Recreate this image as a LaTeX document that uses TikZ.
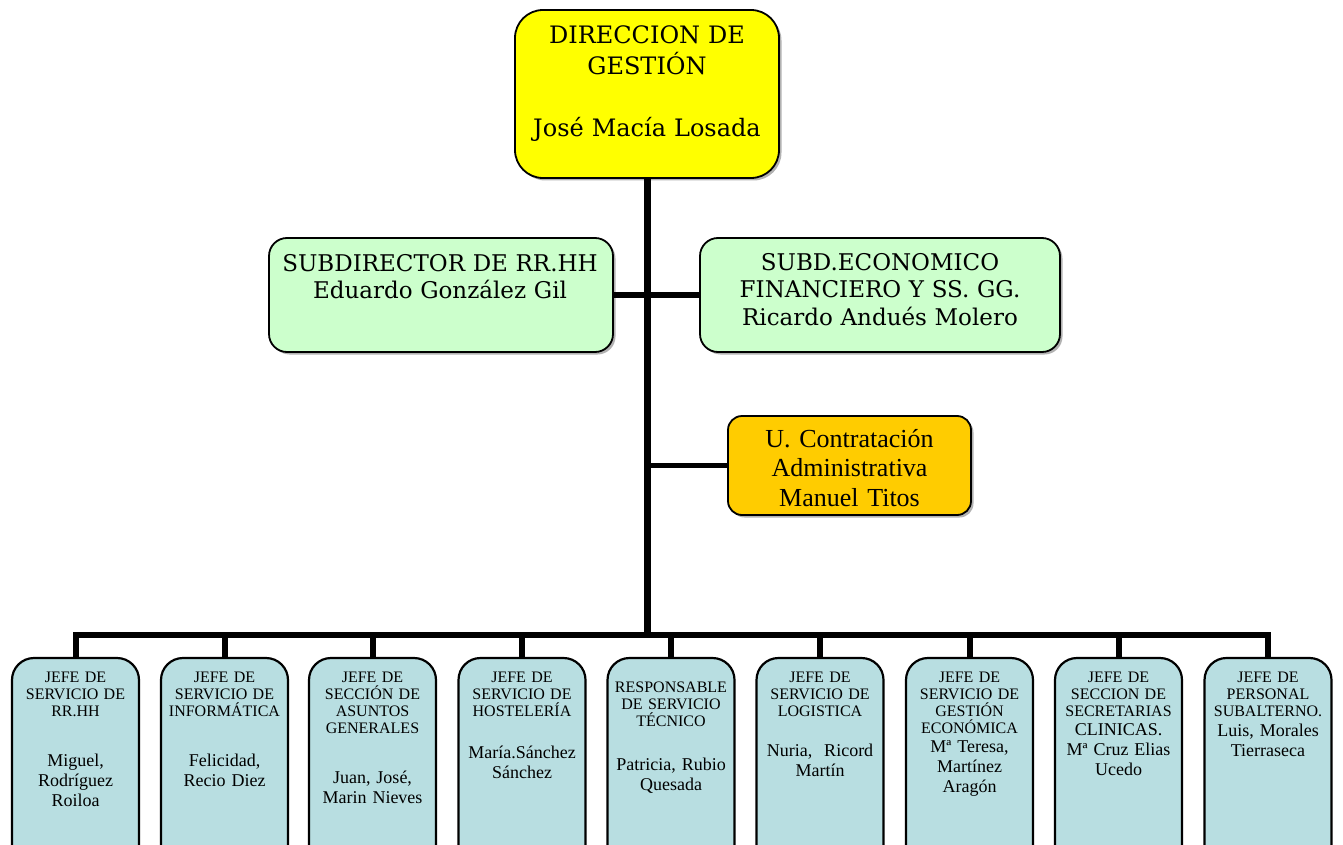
\documentclass[tikz,border=0pt]{standalone}
\usepackage{fontspec}
\setmainfont{Liberation Serif}
\newfontfamily\schfont{DejaVu Serif}
\usetikzlibrary{shadows}
\definecolor{dirYellow}{RGB}{255,255,0}
\definecolor{subGreen}{RGB}{204,255,204}
\definecolor{contOrange}{RGB}{255,204,0}
\definecolor{jefeBlue}{RGB}{184,222,225}
\begin{document}
\begin{tikzpicture}[x=1pt,y=-1pt,
  conn/.style={line width=6pt, black, line join=miter},
  thinconn/.style={line width=5pt, black},
  boxshadow/.style={drop shadow={shadow xshift=2.5pt, shadow yshift=-2.5pt, fill=black, opacity=0.3}},
  topbox/.style={draw, line width=1.8pt, rounded corners=28pt, fill=dirYellow, minimum width=264pt, minimum height=168pt, inner sep=0pt, boxshadow},
  subbox/.style={draw, line width=1.8pt, rounded corners=18pt, fill=subGreen, minimum height=114pt, inner sep=0pt, boxshadow},
  contbox/.style={draw, line width=1.8pt, rounded corners=14pt, fill=contOrange, minimum width=243pt, minimum height=99pt, inner sep=0pt, boxshadow},
  jefebox/.style={draw, line width=2.2pt, rounded corners=22pt, fill=jefeBlue, minimum width=127pt, minimum height=210pt, inner sep=0pt},
  toptext/.style={anchor=base, inner sep=0pt, align=center, text width=250pt, font=\schfont\fontsize{24}{31}\selectfont},
  subtext/.style={anchor=base, inner sep=0pt, align=center, text width=340pt, font=\schfont\fontsize{23}{27.5}\selectfont},
  conttext/.style={anchor=base, inner sep=0pt, align=center, text width=240pt, font=\fontsize{26}{29.5}\selectfont},
  headtext/.style={anchor=base, inner sep=0pt, align=center, text width=125pt, font=\fontsize{16}{17}\selectfont},
  nametext/.style={anchor=base, inner sep=0pt, align=center, text width=125pt, font=\fontsize{18}{20}\selectfont}
]
\useasboundingbox (0,0) rectangle (1343,845);
\clip (0,0) rectangle (1343,845);

% top level boxes
\node[topbox] (dir) at (647,94) {};
\node[subbox, minimum width=344pt] (sub1) at (441,295) {};
\node[subbox, minimum width=360pt] (sub2) at (880,295) {};
\node[contbox] (cont) at (849.5,465.5) {};

% hub coordinate on the bus
\coordinate (hub) at (dir.south |- 0,634.5);

% bottom boxes
\node[jefebox] (b1) at (75.5,763) {};
\node[jefebox] (b2) at (224.5,763) {};
\node[jefebox] (b3) at (372.5,763) {};
\node[jefebox] (b4) at (522,763) {};
\node[jefebox] (b5) at (671,763) {};
\node[jefebox] (b6) at (820,763) {};
\node[jefebox] (b7) at (969.5,763) {};
\node[jefebox] (b8) at (1118.5,763) {};
\node[jefebox] (b9) at (1268,763) {};

% connectors
\draw[conn, line width=7pt] (dir.south) -- (hub);
\draw[conn] (sub1.east) -- (sub1.east -| dir.south);
\draw[conn] (sub2.west) -- (sub2.west -| dir.south);
\draw[thinconn] (cont.west) -- (cont.west -| dir.south);
\draw[conn] (b1.north) |- (hub) -| (b9.north);
\foreach \b in {b2,b3,b4,b5,b6,b7,b8}{
  \draw[conn] (\b.north) -- (\b.north |- hub);
}

% texts of top boxes
\node[toptext] (dirT1) at (647,44) {DIRECCION DE\\GESTIÓN};
\node[toptext] (dirT2) at (647,137) {José Macía Losada};
\node[subtext] (sub1T) at (440,271) {SUBDIRECTOR DE RR.HH\\Eduardo González Gil};
\node[subtext] (sub2T) at (880,270) {SUBD.ECONOMICO\\FINANCIERO Y SS. GG.\\Ricardo Andués Molero};
\node[conttext] (contT) at (849.5,447) {U. Contratación\\Administrativa\\Manuel Titos};

% texts of bottom boxes
\node[headtext] (b1H) at (75.5,682) {JEFE DE\\SERVICIO DE\\RR.HH};
\node[nametext] (b1N) at (75.5,766) {Miguel,\\Rodríguez\\Roiloa};

\node[headtext] (b2H) at (224.5,682) {JEFE DE\\SERVICIO DE\\INFORMÁTICA};
\node[nametext] (b2N) at (224.5,766) {Felicidad,\\Recio Diez};

\node[headtext] (b3H) at (372.5,682) {JEFE DE\\SECCIÓN DE\\ASUNTOS\\GENERALES};
\node[nametext] (b3N) at (372.5,783) {Juan, José,\\Marin Nieves};

\node[headtext] (b4H) at (522,682) {JEFE DE\\SERVICIO DE\\HOSTELERÍA};
\node[nametext] (b4N) at (522,758) {María.Sánchez\\Sánchez};

\node[headtext] (b5H) at (671,692) {RESPONSABLE\\DE SERVICIO\\TÉCNICO};
\node[nametext] (b5N) at (671,770) {Patricia, Rubio\\Quesada};

\node[headtext] (b6H) at (820,682) {JEFE DE\\SERVICIO DE\\LOGISTICA};
\node[nametext] (b6N) at (820,756) {Nuria,\ \ Ricord\\Martín};

\node[headtext] (b7H) at (969.5,682) {JEFE DE\\SERVICIO DE\\GESTIÓN\\ECONÓMICA};
\node[nametext] (b7N) at (969.5,752) {Mª Teresa,\\Martínez\\Aragón};

\node[headtext] (b8H) at (1118.5,682) {JEFE DE\\SECCION DE\\SECRETARIAS};
\node[nametext] (b8N) at (1118.5,735) {CLINICAS.\\Mª Cruz Elias\\Ucedo};

\node[headtext] (b9H) at (1268,682) {JEFE DE\\PERSONAL\\SUBALTERNO.};
\node[nametext] (b9N) at (1268,736) {Luis, Morales\\Tierraseca};
\end{tikzpicture}
\end{document}
